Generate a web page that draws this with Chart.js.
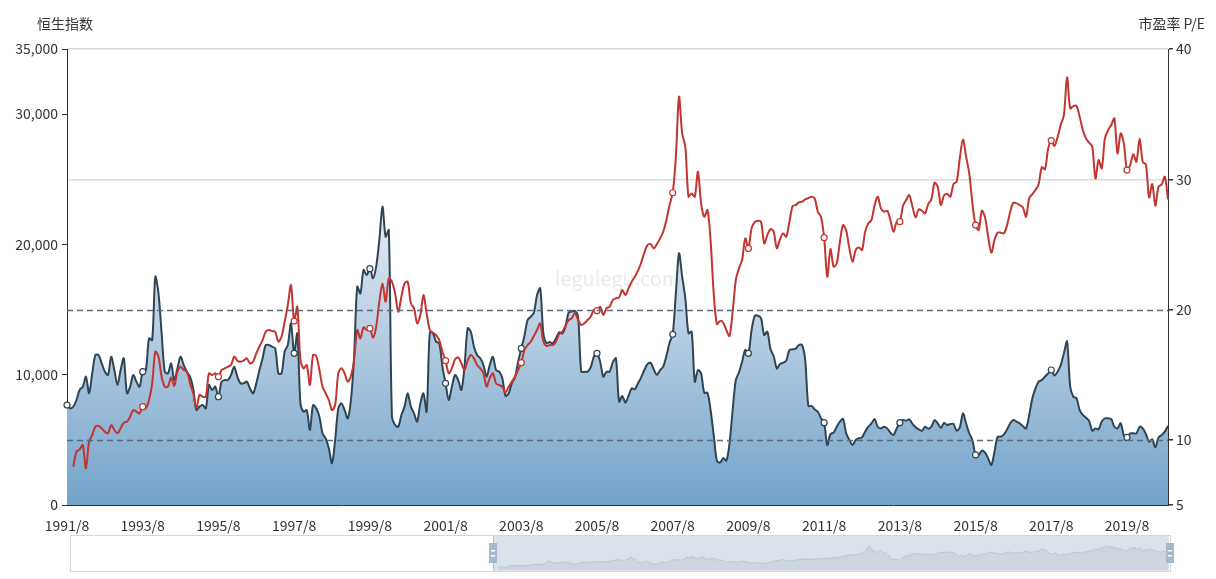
<!DOCTYPE html>
<html>
<head>
<meta charset="utf-8">
<script src="https://cdn.jsdelivr.net/npm/chart.js@4"></script>
<style>
  html,body{margin:0;padding:0;background:#fff;}
  #wrap{position:relative;width:1216px;height:579px;}
  #main{position:absolute;left:0;top:0;}
  #mini{position:absolute;left:494px;top:536px;}
</style>
</head>
<body>
<div id="wrap">
  <canvas id="main" width="1216" height="579"></canvas>
  <canvas id="mini" width="674" height="34"></canvas>
</div>
<script>
// ===== Data =====
const startYear = 1991, startMonth = 8;   // first category: 1991/8, one point per month
const leftTicks = [0, 10000, 20000, 30000, 35000];
const rightTicks = [5, 10, 20, 30, 40];
const peMarkLevels = [10, 20];

// 市盈率 P/E (right axis)
const peValues = [
  12.67,12.42,12.55,13.06,13.83,14.08,14.85,13.57,15.10,16.51,16.51,15.87,
  15.23,14.98,16.38,15.36,14.21,15.36,16.26,13.57,14.08,14.98,14.47,14.08,
  15.23,15.36,17.79,17.66,22.52,21.24,18.17,15.23,15.10,15.87,14.59,15.49,
  16.38,15.74,15.23,14.85,13.95,12.29,12.55,12.67,12.42,14.21,13.83,14.08,
  13.31,14.47,14.59,14.59,14.98,15.62,14.85,14.34,14.34,14.47,13.95,13.57,
  14.34,15.36,16.26,17.28,17.28,17.15,17.02,15.10,15.10,16.77,17.28,18.94,
  16.64,18.17,12.80,12.16,12.29,10.76,12.67,12.42,11.78,10.50,10.12,9.35,
  8.20,9.99,12.42,12.80,12.29,11.65,13.06,16.38,21.76,21.24,23.04,22.65,
  23.14,22.40,23.29,25.34,27.90,25.59,26.11,11.78,11.14,11.01,11.91,12.55,
  13.57,12.55,12.04,11.40,12.80,13.57,12.16,18.23,18.17,17.54,17.41,15.62,
  14.34,13.06,14.08,14.98,14.59,13.83,15.62,18.56,18.30,17.15,16.51,16.26,
  15.74,14.85,15.74,16.38,15.36,15.23,14.72,13.37,13.57,14.34,14.80,16.00,
  17.02,17.97,19.20,19.45,19.76,21.12,21.63,18.17,17.41,17.51,17.41,17.79,
  18.25,18.17,18.69,19.76,19.84,19.91,19.45,15.23,15.23,15.23,15.57,16.38,
  16.64,16.00,14.85,15.23,15.23,15.95,16.26,12.93,13.37,12.85,13.37,13.95,
  13.88,14.34,14.80,15.36,15.82,15.92,15.41,14.98,15.36,15.62,16.44,17.46,
  18.10,21.24,24.31,22.52,20.86,18.17,18.30,14.47,15.36,15.10,13.62,13.62,
  12.29,10.37,8.40,8.25,8.60,8.40,9.73,12.29,14.59,15.18,16.00,16.90,
  16.64,18.43,19.50,19.53,19.33,18.05,18.30,16.95,16.44,15.49,15.82,15.92,
  16.08,16.90,16.95,17.00,17.28,17.28,16.13,12.60,12.60,12.34,12.16,11.65,
  11.32,9.60,10.45,10.55,11.01,11.40,11.60,10.50,9.99,9.60,9.99,10.12,
  10.19,10.63,11.01,11.27,11.60,11.01,10.88,11.01,10.88,10.55,10.37,10.88,
  11.32,11.52,11.47,11.57,11.22,10.96,10.81,10.70,11.01,10.86,11.01,11.52,
  11.27,10.92,11.30,11.14,11.22,11.22,10.70,10.96,12.04,11.27,10.50,9.99,
  8.84,8.84,9.17,9.02,8.58,8.07,9.09,10.24,10.24,10.42,10.81,11.27,
  11.52,11.40,11.27,11.06,10.88,11.91,13.19,13.95,14.47,14.59,14.85,15.10,
  15.36,14.94,15.23,15.74,16.64,17.54,14.08,13.31,13.19,12.29,11.91,11.70,
  11.45,10.70,10.88,10.81,11.40,11.65,11.65,11.60,11.01,10.88,11.27,10.37,
  10.19,10.50,10.50,10.50,11.01,10.88,10.45,9.86,10.04,9.43,10.19,10.37,
  10.63,11.06
];

// 恒生指数 (left axis)
const hsiValues = [
  null,null,2942,4093,4272,4604,2814,4860,5372,6011,6062,5883,
  5628,5500,6139,5756,5500,5883,6318,6395,6779,7290,7162,7035,
  7546,7418,8058,9337,11767,11383,9848,9081,9081,9780,9150,10232,
  10616,10360,10232,9337,8569,7418,8441,8314,8314,10104,9976,10104,
  9848,10360,10488,10616,10744,11383,11076,10999,11076,11255,10872,10999,
  11639,12151,12662,13302,13430,13353,13302,12534,12918,14069,15348,16883,
  14120,15220,11127,10488,10744,9209,11511,11434,10360,9081,8569,8058,
  7290,7674,10104,10488,10104,9465,9899,11127,13430,12790,13634,13430,
  13557,12841,13685,15604,17011,15604,17394,17139,16243,14836,15988,17011,
  17139,15476,15092,13941,14581,16115,14709,13430,13225,13046,12662,11767,
  11076,10104,10488,11178,11332,10872,10360,11076,11511,11255,10744,10488,
  10104,9081,9720,10104,9337,9209,9081,8620,9081,9465,9848,10360,
  10923,11895,12278,12534,12969,13430,13941,12534,12202,12278,12278,12534,
  13123,13302,13736,14197,14325,14760,14197,13813,13941,14197,14453,14964,
  14913,15220,14581,15092,15220,15732,15860,15936,16499,16115,16627,17139,
  17522,17983,18597,19364,19952,20029,19697,20029,20464,20976,21871,23022,
  23968,26731,31336,28522,27499,23662,23917,23662,25580,23150,22127,22638,
  20336,16243,13890,14130,13992,13430,12969,14836,17267,18162,18801,20464,
  19697,21231,21717,21820,21743,20080,20720,21180,20976,19697,20387,20848,
  20592,21743,22945,23022,23227,23278,23457,23559,23662,23534,22510,22127,
  20515,17522,19650,18290,18546,20208,21487,21052,19697,18673,19569,19773,
  19569,20976,21615,21871,23022,23662,22766,22510,22587,21871,20976,21743,
  21743,22971,23406,23789,22894,22076,22689,22587,22383,23099,23457,24736,
  24429,23022,23764,23866,23662,24634,24813,26603,28061,26731,25452,23150,
  21487,21104,22587,22076,20592,19364,20336,20899,20899,20848,21487,22510,
  23201,23150,23022,22843,22127,23534,23866,24173,24615,25925,25765,27324,
  27970,27554,28246,29177,29919,32819,30440,30619,30619,29801,28778,28138,
  27805,27499,25068,26475,25836,28138,28778,29161,29673,26987,28522,27754,
  25708,26092,26910,26347,28138,26322,26143,23610,24634,22971,24429,24608,
  25196,23457
];

// category labels: one per month
const months = [];
for (let i = 0; i < peValues.length; i++) {
  const m = startMonth - 1 + i;
  months.push((startYear + Math.floor(m / 12)) + "/" + (m % 12 + 1));
}

// ===== Styles =====
const FONT = '"Noto Sans CJK SC", "Noto Sans", sans-serif';
const TEXT = "#333";
const RED = "#c23531", SLATE = "#2f4554";

// ===== Plugins =====
const decor = {
  id: "decor",
  afterDatasetsDraw(chart){
    const {ctx, chartArea:a, scales} = chart;
    ctx.save();
    // watermark
    ctx.font = "20px " + FONT;
    ctx.fillStyle = "rgba(120,120,120,0.15)";
    ctx.textAlign = "center"; ctx.textBaseline = "middle";
    ctx.fillText("legulegu.com", (a.left + a.right) / 2, 278);
    // dashed reference lines on the P/E axis
    ctx.strokeStyle = "#5b6b7a"; ctx.lineWidth = 1.5; ctx.setLineDash([6, 4]);
    peMarkLevels.forEach(v => {
      const y = Math.round(scales.yR.getPixelForValue(v)) + 0.5;
      ctx.beginPath(); ctx.moveTo(a.left, y); ctx.lineTo(a.right, y); ctx.stroke();
    });
    ctx.restore();
  },
  afterDraw(chart){
    const {ctx} = chart;
    ctx.save();
    // axis names
    ctx.font = "14px " + FONT; ctx.fillStyle = TEXT; ctx.textBaseline = "middle";
    ctx.textAlign = "left"; ctx.fillText("恒生指数", 37, 24);
    ctx.textAlign = "right"; ctx.fillText("市盈率 P/E", 1205, 24);
    // data zoom slider frame
    ctx.strokeStyle = "#d2d7de"; ctx.lineWidth = 1;
    ctx.strokeRect(70.5, 535.5, 1100, 36);
    ctx.fillStyle = "rgba(167,183,204,0.4)";
    ctx.fillRect(494, 536, 675, 35);
    ctx.strokeStyle = "rgba(167,183,204,0.9)";
    ctx.beginPath(); ctx.moveTo(493.5, 536); ctx.lineTo(493.5, 571); ctx.stroke();
    [493, 1170].forEach(x => {
      ctx.fillStyle = "#a7b7cc";
      ctx.fillRect(x - 4, 543, 8, 20);
      ctx.fillStyle = "#fff";
      ctx.fillRect(x - 2, 550, 4, 1.5);
      ctx.fillRect(x - 2, 555, 4, 1.5);
    });
    ctx.restore();
  }
};

// ===== Main chart =====
const symbolEvery = 24;
const pointR = c => (c.dataIndex % symbolEvery === 0 ? 3 : 0);

new Chart(document.getElementById("main"), {
  type: "line",
  data: {
    labels: months,
    datasets: [
      {
        label: "恒生指数", data: hsiValues, yAxisID: "yL",
        borderColor: RED, borderWidth: 2, fill: false, tension: 0.3,
        pointRadius: pointR, pointBackgroundColor: "#fff", pointBorderColor: RED, pointBorderWidth: 1.2
      },
      {
        label: "市盈率", data: peValues, yAxisID: "yR",
        borderColor: SLATE, borderWidth: 2, fill: "start", tension: 0.3,
        backgroundColor: c => {
          const {ctx, chartArea, scales} = c.chart;
          if (!chartArea) return "rgba(111,161,202,0.6)";
          const top = scales.yR.getPixelForValue(Math.max(...peValues));
          const g = ctx.createLinearGradient(0, top, 0, chartArea.bottom);
          g.addColorStop(0, "#e8edf3");
          g.addColorStop(1, "#72a3cb");
          return g;
        },
        pointRadius: pointR, pointBackgroundColor: "#fff", pointBorderColor: SLATE, pointBorderWidth: 1.2
      }
    ]
  },
  options: {
    responsive: false, animation: false,
    layout: { padding: { top: 49, left: 0, right: 0, bottom: 0 } },
    plugins: { legend: { display: false }, tooltip: { enabled: false } },
    scales: {
      x: {
        grid: { display: false },
        border: { color: TEXT },
        ticks: {
          autoSkip: false, maxRotation: 0, color: TEXT, font: { size: 14, family: FONT }, padding: 4,
          callback: (v, i) => (i % symbolEvery === 0 ? months[i] : null)
        },
        afterFit: s => { s.height = 74; }
      },
      yL: {
        position: "left", min: 0, max: 35000,
        afterBuildTicks: s => { s.ticks = leftTicks.map(v => ({ value: v })); },
        grid: { drawOnChartArea: false, tickLength: 5, tickColor: TEXT },
        border: { color: TEXT },
        ticks: { color: TEXT, font: { size: 14, family: FONT }, padding: 4,
                 callback: v => Number(v).toLocaleString("en-US") },
        afterFit: s => { s.width = 67; }
      },
      yR: {
        position: "right", min: 5, max: 40,
        afterBuildTicks: s => { s.ticks = rightTicks.map(v => ({ value: v })); },
        grid: {
          color: c => (c.tick && (c.tick.value === 30 || c.tick.value === 40) ? "#dcdcdc" : "rgba(0,0,0,0)"),
          lineWidth: 1.5, tickLength: 5, tickColor: TEXT
        },
        border: { color: TEXT },
        ticks: { color: TEXT, font: { size: 14, family: FONT }, padding: 3 },
        afterFit: s => { s.width = 48; }
      }
    }
  },
  plugins: [decor]
});

// ===== Slider data shadow =====
new Chart(document.getElementById("mini"), {
  type: "line",
  data: { labels: months, datasets: [{
    data: hsiValues, borderColor: "#b9c3d0", borderWidth: 1, fill: "start",
    backgroundColor: "rgba(180,190,205,0.35)", pointRadius: 0, tension: 0.3
  }]},
  options: {
    responsive: false, animation: false,
    layout: { padding: 0 },
    plugins: { legend: { display: false }, tooltip: { enabled: false } },
    scales: { x: { display: false }, y: { display: false, min: 0, max: 45000 } }
  }
});
</script>
</body>
</html>
